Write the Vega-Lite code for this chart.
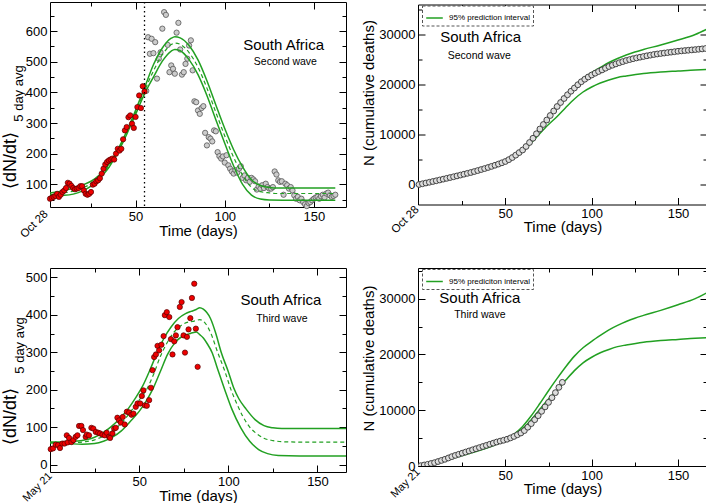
{
"$schema":"https://vega.github.io/schema/vega-lite/v6.json",
"padding":{"left":0,"top":0,"right":0,"bottom":0},
"config":{"font":"Liberation Sans","view":{"stroke":"#000","strokeWidth":1},"axis":{"domain":false,"grid":false,"labelFont":"Liberation Sans","titleFont":"Liberation Sans","labelFontSize":13,"titleFontSize":15,"titleFontWeight":"normal","labelColor":"#000","titleColor":"#000","tickColor":"#000","tickWidth":1,"labelOverlap":false,"labelFlush":false,"labelBound":false}},
"datasets":{
"tlred":[{"day":2,"v":53},{"day":3,"v":56},{"day":4,"v":59},{"day":5,"v":62},{"day":6,"v":69},{"day":7,"v":59},{"day":8,"v":66},{"day":9,"v":75},{"day":10,"v":80},{"day":11,"v":88},{"day":12,"v":105},{"day":13,"v":102},{"day":14,"v":95},{"day":15,"v":88},{"day":16,"v":84},{"day":17,"v":86},{"day":18,"v":88},{"day":19,"v":94},{"day":20,"v":94},{"day":21,"v":80},{"day":22,"v":69},{"day":23,"v":66},{"day":24,"v":69},{"day":25,"v":75},{"day":26,"v":99},{"day":27,"v":102},{"day":28,"v":110},{"day":29,"v":113},{"day":30,"v":120},{"day":31,"v":135},{"day":32,"v":151},{"day":33,"v":165},{"day":34,"v":173},{"day":35,"v":178},{"day":36,"v":181},{"day":37,"v":184},{"day":38,"v":181},{"day":39,"v":200},{"day":40,"v":216},{"day":41,"v":210},{"day":42,"v":216},{"day":43,"v":247},{"day":44,"v":276},{"day":45,"v":287},{"day":46,"v":319},{"day":47,"v":325},{"day":48,"v":298},{"day":49,"v":284},{"day":50,"v":320},{"day":51,"v":352},{"day":52,"v":390},{"day":53,"v":349},{"day":54,"v":420},{"day":55,"v":403}],
"tlgray":[{"day":56,"v":405},{"day":57,"v":580},{"day":58,"v":526},{"day":59,"v":575},{"day":60,"v":528},{"day":61,"v":564},{"day":62,"v":445},{"day":63,"v":510},{"day":64,"v":531},{"day":65,"v":608},{"day":66,"v":662},{"day":67,"v":653},{"day":68,"v":555},{"day":69,"v":466},{"day":70,"v":488},{"day":71,"v":477},{"day":72,"v":461},{"day":73,"v":595},{"day":74,"v":627},{"day":75,"v":540},{"day":76,"v":458},{"day":77,"v":466},{"day":78,"v":493},{"day":79,"v":510},{"day":80,"v":553},{"day":81,"v":570},{"day":82,"v":472},{"day":83,"v":371},{"day":84,"v":368},{"day":85,"v":341},{"day":86,"v":330},{"day":87,"v":349},{"day":88,"v":355},{"day":89,"v":268},{"day":90,"v":227},{"day":91,"v":254},{"day":92,"v":249},{"day":93,"v":240},{"day":94,"v":276},{"day":95,"v":273},{"day":96,"v":205},{"day":97,"v":192},{"day":98,"v":184},{"day":99,"v":191},{"day":100,"v":171},{"day":101,"v":195},{"day":102,"v":162},{"day":103,"v":151},{"day":104,"v":142},{"day":105,"v":135},{"day":106,"v":146},{"day":107,"v":138},{"day":108,"v":151},{"day":109,"v":159},{"day":110,"v":121},{"day":111,"v":129},{"day":112,"v":113},{"day":113,"v":121},{"day":114,"v":108},{"day":115,"v":121},{"day":116,"v":116},{"day":117,"v":110},{"day":118,"v":83},{"day":119,"v":93},{"day":120,"v":86},{"day":121,"v":97},{"day":122,"v":88},{"day":123,"v":102},{"day":124,"v":91},{"day":125,"v":86},{"day":126,"v":86},{"day":127,"v":91},{"day":128,"v":142},{"day":129,"v":132},{"day":130,"v":113},{"day":131,"v":108},{"day":132,"v":110},{"day":133,"v":66},{"day":134,"v":102},{"day":135,"v":97},{"day":136,"v":86},{"day":137,"v":91},{"day":138,"v":80},{"day":139,"v":64},{"day":140,"v":53},{"day":141,"v":59},{"day":142,"v":48},{"day":143,"v":53},{"day":144,"v":42},{"day":145,"v":35},{"day":146,"v":29},{"day":147,"v":39},{"day":148,"v":42},{"day":149,"v":48},{"day":150,"v":53},{"day":151,"v":57},{"day":152,"v":59},{"day":153,"v":53},{"day":154,"v":61},{"day":155,"v":66},{"day":156,"v":57},{"day":157,"v":70},{"day":158,"v":73},{"day":159,"v":64},{"day":160,"v":59},{"day":161,"v":62},{"day":162,"v":66}],
"tlband":[{"day":2,"v":72,"b":"u"},{"day":5,"v":74,"b":"u"},{"day":10,"v":80,"b":"u"},{"day":15,"v":87,"b":"u"},{"day":20,"v":97,"b":"u"},{"day":25,"v":110,"b":"u"},{"day":30,"v":132,"b":"u"},{"day":35,"v":165,"b":"u"},{"day":40,"v":213,"b":"u"},{"day":45,"v":273,"b":"u"},{"day":50,"v":342,"b":"u"},{"day":55,"v":415,"b":"u"},{"day":60,"v":490,"b":"u"},{"day":65,"v":545,"b":"u"},{"day":70,"v":577,"b":"u"},{"day":72,"v":582,"b":"u"},{"day":75,"v":578,"b":"u"},{"day":80,"v":553,"b":"u"},{"day":85,"v":506,"b":"u"},{"day":90,"v":438,"b":"u"},{"day":95,"v":359,"b":"u"},{"day":100,"v":282,"b":"u"},{"day":105,"v":213,"b":"u"},{"day":110,"v":157,"b":"u"},{"day":115,"v":115,"b":"u"},{"day":120,"v":96,"b":"u"},{"day":125,"v":90,"b":"u"},{"day":130,"v":88,"b":"u"},{"day":140,"v":88,"b":"u"},{"day":150,"v":88,"b":"u"},{"day":162,"v":88,"b":"u"},
{"day":2,"v":62,"b":"l"},{"day":5,"v":63,"b":"l"},{"day":10,"v":64,"b":"l"},{"day":15,"v":68,"b":"l"},{"day":20,"v":78,"b":"l"},{"day":25,"v":94,"b":"l"},{"day":30,"v":121,"b":"l"},{"day":35,"v":155,"b":"l"},{"day":40,"v":203,"b":"l"},{"day":45,"v":263,"b":"l"},{"day":50,"v":328,"b":"l"},{"day":55,"v":395,"b":"l"},{"day":60,"v":450,"b":"l"},{"day":65,"v":502,"b":"l"},{"day":70,"v":535,"b":"l"},{"day":72,"v":540,"b":"l"},{"day":75,"v":536,"b":"l"},{"day":80,"v":507,"b":"l"},{"day":85,"v":458,"b":"l"},{"day":90,"v":390,"b":"l"},{"day":95,"v":311,"b":"l"},{"day":100,"v":234,"b":"l"},{"day":105,"v":160,"b":"l"},{"day":110,"v":100,"b":"l"},{"day":115,"v":65,"b":"l"},{"day":120,"v":52,"b":"l"},{"day":125,"v":49,"b":"l"},{"day":140,"v":48,"b":"l"},{"day":162,"v":48,"b":"l"}],
"tlmid":[{"day":2,"v":66},{"day":5,"v":68},{"day":10,"v":72},{"day":15,"v":78},{"day":20,"v":88},{"day":25,"v":102},{"day":30,"v":127},{"day":35,"v":160},{"day":40,"v":208},{"day":45,"v":268},{"day":50,"v":335},{"day":55,"v":405},{"day":60,"v":470},{"day":65,"v":523},{"day":70,"v":556},{"day":72,"v":561},{"day":75,"v":557},{"day":80,"v":530},{"day":85,"v":482},{"day":90,"v":414},{"day":95,"v":335},{"day":100,"v":258},{"day":105,"v":188},{"day":110,"v":130},{"day":115,"v":90},{"day":120,"v":76},{"day":125,"v":72},{"day":130,"v":70},{"day":145,"v":70},{"day":162,"v":70}],
"blred":[{"day":0.4,"v":41},{"day":1.7,"v":43},{"day":3.2,"v":53},{"day":4.5,"v":52},{"day":5.6,"v":44},{"day":6.9,"v":56},{"day":8.2,"v":56},{"day":9.4,"v":78},{"day":9.9,"v":59},{"day":10.7,"v":71},{"day":12,"v":60},{"day":13.1,"v":65},{"day":14.4,"v":74},{"day":15.4,"v":78},{"day":16.3,"v":103},{"day":17.6,"v":103},{"day":18.5,"v":92},{"day":20,"v":74},{"day":20.6,"v":80},{"day":21.9,"v":78},{"day":23.2,"v":98},{"day":24.3,"v":96},{"day":25.7,"v":87},{"day":27,"v":85},{"day":28.1,"v":83},{"day":29.4,"v":80},{"day":30.7,"v":78},{"day":31.8,"v":85},{"day":33.1,"v":74},{"day":33.7,"v":71},{"day":35,"v":83},{"day":36,"v":96},{"day":36.9,"v":98},{"day":37.8,"v":125},{"day":38.8,"v":118},{"day":39.7,"v":112},{"day":40.8,"v":127},{"day":41.9,"v":107},{"day":43.1,"v":141},{"day":44.4,"v":139},{"day":45.7,"v":133},{"day":46.8,"v":136},{"day":48.1,"v":154},{"day":49.1,"v":163},{"day":50.6,"v":163},{"day":51.5,"v":183},{"day":52.4,"v":198},{"day":53.2,"v":158},{"day":54.3,"v":157},{"day":55.6,"v":172},{"day":56.6,"v":205},{"day":57.5,"v":252},{"day":58.4,"v":287},{"day":59.4,"v":294},{"day":60.3,"v":317},{"day":61.2,"v":305},{"day":62.5,"v":320},{"day":63.7,"v":343},{"day":64.4,"v":399},{"day":65.5,"v":407},{"day":66.9,"v":394},{"day":67.8,"v":335},{"day":68.7,"v":294},{"day":69.7,"v":329},{"day":70.6,"v":345},{"day":71.5,"v":367},{"day":72.8,"v":421},{"day":73.8,"v":434},{"day":74.9,"v":345},{"day":75.7,"v":299},{"day":76.8,"v":341},{"day":77.7,"v":361},{"day":78.7,"v":391},{"day":79.6,"v":445},{"day":80.9,"v":483},{"day":81.8,"v":363},{"day":82.8,"v":261}],
"blband":[{"day":0,"v":60,"b":"u"},{"day":10,"v":61,"b":"u"},{"day":20,"v":66,"b":"u"},{"day":25,"v":73,"b":"u"},{"day":30,"v":86,"b":"u"},{"day":34,"v":100,"b":"u"},{"day":40,"v":127,"b":"u"},{"day":44,"v":150,"b":"u"},{"day":48,"v":178,"b":"u"},{"day":52,"v":210,"b":"u"},{"day":56,"v":252,"b":"u"},{"day":60,"v":298,"b":"u"},{"day":64,"v":338,"b":"u"},{"day":68,"v":368,"b":"u"},{"day":72,"v":390,"b":"u"},{"day":76,"v":403,"b":"u"},{"day":79,"v":409,"b":"u"},{"day":82,"v":414,"b":"u"},{"day":84,"v":419,"b":"u"},{"day":86,"v":415,"b":"u"},{"day":90,"v":390,"b":"u"},{"day":93,"v":350,"b":"u"},{"day":96,"v":300,"b":"u"},{"day":100,"v":248,"b":"u"},{"day":103,"v":205,"b":"u"},{"day":106,"v":175,"b":"u"},{"day":110,"v":148,"b":"u"},{"day":115,"v":120,"b":"u"},{"day":120,"v":104,"b":"u"},{"day":125,"v":98,"b":"u"},{"day":130,"v":96,"b":"u"},{"day":166,"v":96,"b":"u"},
{"day":0,"v":58,"b":"l"},{"day":10,"v":56,"b":"l"},{"day":18,"v":54,"b":"l"},{"day":25,"v":56,"b":"l"},{"day":30,"v":62,"b":"l"},{"day":35,"v":73,"b":"l"},{"day":40,"v":90,"b":"l"},{"day":45,"v":115,"b":"l"},{"day":50,"v":142,"b":"l"},{"day":54,"v":170,"b":"l"},{"day":57.5,"v":200,"b":"l"},{"day":62,"v":250,"b":"l"},{"day":66,"v":295,"b":"l"},{"day":70,"v":325,"b":"l"},{"day":74,"v":342,"b":"l"},{"day":78,"v":349,"b":"l"},{"day":80,"v":352,"b":"l"},{"day":82,"v":354,"b":"l"},{"day":84,"v":347,"b":"l"},{"day":86,"v":338,"b":"l"},{"day":88,"v":324,"b":"l"},{"day":91,"v":298,"b":"l"},{"day":94,"v":255,"b":"l"},{"day":98,"v":200,"b":"l"},{"day":102,"v":148,"b":"l"},{"day":107,"v":98,"b":"l"},{"day":112,"v":62,"b":"l"},{"day":117,"v":40,"b":"l"},{"day":122,"v":29,"b":"l"},{"day":128,"v":24,"b":"l"},{"day":140,"v":23,"b":"l"},{"day":166,"v":23,"b":"l"}],
"blmid":[{"day":0,"v":58},{"day":10,"v":58},{"day":20,"v":61},{"day":25,"v":66},{"day":30,"v":76},{"day":35,"v":90},{"day":40,"v":110},{"day":45,"v":140},{"day":50,"v":172},{"day":55,"v":208},{"day":58,"v":240},{"day":62,"v":290},{"day":66,"v":328},{"day":70,"v":356},{"day":74,"v":373},{"day":78,"v":381},{"day":80,"v":382},{"day":82,"v":385},{"day":84,"v":387},{"day":87,"v":378},{"day":90,"v":353},{"day":94,"v":300},{"day":98,"v":250},{"day":101.5,"v":200},{"day":105,"v":160},{"day":108,"v":130},{"day":112,"v":100},{"day":116,"v":82},{"day":120,"v":70},{"day":125,"v":64},{"day":130,"v":61},{"day":140,"v":60},{"day":166,"v":60}],
"rband":[{"day":0,"v":0,"b":"u"},{"day":10,"v":750,"b":"u"},{"day":20,"v":1550,"b":"u"},{"day":30,"v":2420,"b":"u"},{"day":40,"v":3420,"b":"u"},{"day":50,"v":4650,"b":"u"},{"day":55,"v":5700,"b":"u"},{"day":60,"v":7100,"b":"u"},{"day":65,"v":9000,"b":"u"},{"day":70,"v":11200,"b":"u"},{"day":75,"v":13500,"b":"u"},{"day":80,"v":15700,"b":"u"},{"day":85,"v":17800,"b":"u"},{"day":90,"v":19700,"b":"u"},{"day":95,"v":21200,"b":"u"},{"day":100,"v":22350,"b":"u"},{"day":105,"v":23400,"b":"u"},{"day":110,"v":24400,"b":"u"},{"day":115,"v":25200,"b":"u"},{"day":120,"v":25900,"b":"u"},{"day":125,"v":26500,"b":"u"},{"day":130,"v":27000,"b":"u"},{"day":140,"v":27900,"b":"u"},{"day":150,"v":28900,"b":"u"},{"day":160,"v":30000,"b":"u"},{"day":167,"v":31100,"b":"u"},
{"day":0,"v":0,"b":"l"},{"day":10,"v":680,"b":"l"},{"day":20,"v":1450,"b":"l"},{"day":30,"v":2330,"b":"l"},{"day":40,"v":3330,"b":"l"},{"day":50,"v":4550,"b":"l"},{"day":55,"v":5450,"b":"l"},{"day":60,"v":6650,"b":"l"},{"day":65,"v":8300,"b":"l"},{"day":70,"v":10200,"b":"l"},{"day":75,"v":12000,"b":"l"},{"day":80,"v":13600,"b":"l"},{"day":85,"v":15400,"b":"l"},{"day":90,"v":17100,"b":"l"},{"day":95,"v":18500,"b":"l"},{"day":100,"v":19500,"b":"l"},{"day":105,"v":20300,"b":"l"},{"day":110,"v":20900,"b":"l"},{"day":115,"v":21400,"b":"l"},{"day":120,"v":21700,"b":"l"},{"day":130,"v":22200,"b":"l"},{"day":140,"v":22500,"b":"l"},{"day":150,"v":22700,"b":"l"},{"day":160,"v":22900,"b":"l"},{"day":167,"v":23000,"b":"l"}],
"trpts":[{"day":0,"v":0},{"day":2,"v":150},{"day":4,"v":300},{"day":6,"v":450},{"day":8,"v":600},{"day":10,"v":750},{"day":12,"v":910},{"day":14,"v":1070},{"day":16,"v":1230},{"day":18,"v":1390},{"day":20,"v":1550},{"day":22,"v":1720},{"day":24,"v":1890},{"day":26,"v":2060},{"day":28,"v":2230},{"day":30,"v":2400},{"day":32,"v":2590},{"day":34,"v":2790},{"day":36,"v":2990},{"day":38,"v":3190},{"day":40,"v":3400},{"day":42,"v":3620},{"day":44,"v":3850},{"day":46,"v":4090},{"day":48,"v":4340},{"day":50,"v":4600},{"day":52,"v":4970},{"day":54,"v":5390},{"day":56,"v":5870},{"day":58,"v":6380},{"day":60,"v":6900},{"day":62,"v":7600},{"day":64,"v":8400},{"day":66,"v":9250},{"day":68,"v":10150},{"day":70,"v":11100},{"day":72,"v":12000},{"day":74,"v":12900},{"day":76,"v":13800},{"day":78,"v":14700},{"day":80,"v":15600},{"day":82,"v":16400},{"day":84,"v":17200},{"day":86,"v":17950},{"day":88,"v":18650},{"day":90,"v":19300},{"day":92,"v":19950},{"day":94,"v":20550},{"day":96,"v":21050},{"day":98,"v":21500},{"day":100,"v":21900},{"day":102,"v":22260},{"day":104,"v":22600},{"day":106,"v":22920},{"day":108,"v":23260},{"day":110,"v":23600},{"day":112,"v":23860},{"day":114,"v":24120},{"day":116,"v":24360},{"day":118,"v":24580},{"day":120,"v":24800},{"day":122,"v":24980},{"day":124,"v":25160},{"day":126,"v":25320},{"day":128,"v":25460},{"day":130,"v":25600},{"day":132,"v":25740},{"day":134,"v":25870},{"day":136,"v":26000},{"day":138,"v":26100},{"day":140,"v":26200},{"day":142,"v":26290},{"day":144,"v":26380},{"day":146,"v":26470},{"day":148,"v":26560},{"day":150,"v":26650},{"day":152,"v":26720},{"day":154,"v":26790},{"day":156,"v":26850},{"day":158,"v":26920},{"day":160,"v":26980},{"day":162,"v":27050},{"day":164,"v":27120},{"day":166,"v":27200}],
"brpts":[{"day":1,"v":60},{"day":3,"v":180},{"day":5,"v":300},{"day":7,"v":450},{"day":9,"v":600},{"day":11,"v":800},{"day":13,"v":1000},{"day":15,"v":1200},{"day":17,"v":1440},{"day":19,"v":1680},{"day":21,"v":1900},{"day":23,"v":2100},{"day":25,"v":2300},{"day":27,"v":2500},{"day":29,"v":2700},{"day":31,"v":2900},{"day":33,"v":3100},{"day":35,"v":3300},{"day":37,"v":3500},{"day":39,"v":3700},{"day":41,"v":3900},{"day":43,"v":4100},{"day":45,"v":4300},{"day":47,"v":4460},{"day":49,"v":4620},{"day":51,"v":4800},{"day":53,"v":5040},{"day":55,"v":5300},{"day":57,"v":5600},{"day":59,"v":5920},{"day":61,"v":6350},{"day":63,"v":6950},{"day":65,"v":7600},{"day":67,"v":8300},{"day":69,"v":9020},{"day":71,"v":9800},{"day":73,"v":10600},{"day":75,"v":11400},{"day":77,"v":12250},{"day":79,"v":13150},{"day":81,"v":14100},{"day":83,"v":15000}]
},
"columns":2,"spacing":{"row":61,"column":72},"bounds":"flush","center":true,
"resolve":{"scale":{"color":"independent"},"legend":{"color":"independent"}},
"concat":[
{"width":296,"height":205,
 "resolve":{"axis":{"x":"independent","y":"independent"}},
 "layer":[
  {"data":{"name":"tlgray"},"mark":{"type":"circle","size":28,"color":"#cccccc","stroke":"#555555","strokeWidth":0.8,"opacity":1},
   "encoding":{"x":{"field":"day","type":"quantitative","scale":{"domain":[2,168],"nice":false,"zero":false},"axis":null},"y":{"field":"v","type":"quantitative","scale":{"domain":[26,695],"nice":false,"zero":false},"axis":null}}},
  {"data":{"name":"tlband"},"mark":{"type":"line","color":"#22a022","strokeWidth":1.5,"interpolate":"monotone","clip":true},
   "encoding":{"x":{"field":"day","type":"quantitative","scale":{"domain":[2,168],"nice":false,"zero":false},"axis":null},"y":{"field":"v","type":"quantitative","scale":{"domain":[26,695],"nice":false,"zero":false},"axis":null},"detail":{"field":"b"}}},
  {"data":{"name":"tlmid"},"mark":{"type":"line","color":"#22a022","strokeWidth":1.2,"strokeDash":[4,3],"interpolate":"monotone","clip":true},
   "encoding":{"x":{"field":"day","type":"quantitative","scale":{"domain":[2,168],"nice":false,"zero":false},"axis":null},"y":{"field":"v","type":"quantitative","scale":{"domain":[26,695],"nice":false,"zero":false},"axis":null}}},
  {"data":{"name":"tlred"},"mark":{"type":"circle","size":28,"color":"#ee0000","stroke":"#550000","strokeWidth":0.7,"opacity":1},
   "encoding":{
    "x":{"field":"day","type":"quantitative","scale":{"domain":[2,168],"nice":false,"zero":false},
      "axis":{"orient":"bottom","title":"Time (days)","values":[25,50,75,100,125,150],"labelExpr":"datum.value % 50 == 0 ? datum.label : ''","tickSize":{"condition":{"test":"datum.value % 50 == 0","value":-7},"value":-4},"labelPadding":10,"titleY":23,"titleBaseline":"middle"}},
    "y":{"field":"v","type":"quantitative","scale":{"domain":[26,695],"nice":false,"zero":false},
      "axis":{"orient":"left","title":null,"values":[50,100,150,200,250,300,350,400,450,500,550,600,650],"labelExpr":"datum.value % 100 == 0 ? datum.label : ''","tickSize":{"condition":{"test":"datum.value % 100 == 0","value":-7},"value":-4},"labelPadding":10}}}},
  {"data":{"name":"tlred"},"mark":{"type":"circle","opacity":0},
   "encoding":{
    "x":{"field":"day","type":"quantitative","scale":{"domain":[2,168],"nice":false,"zero":false},"axis":{"orient":"top","title":null,"labels":false,"values":[25,50,75,100,125,150],"tickSize":{"condition":{"test":"datum.value % 50 == 0","value":-7},"value":-4}}},
    "y":{"field":"v","type":"quantitative","scale":{"domain":[26,695],"nice":false,"zero":false},"axis":{"orient":"right","title":null,"labels":false,"values":[50,100,150,200,250,300,350,400,450,500,550,600,650],"tickSize":{"condition":{"test":"datum.value % 100 == 0","value":-7},"value":-4}}}}},
  {"data":{"name":"tlred"},"mark":{"type":"circle","opacity":0},
   "encoding":{
    "x":{"field":"day","type":"quantitative","scale":{"domain":[2,168],"nice":false,"zero":false},"axis":{"orient":"bottom","title":null,"ticks":false,"values":[2],"labelExpr":"'Oct 28'","labelAngle":-45,"labelAlign":"right","labelBaseline":"middle","labelFontSize":11.5,"labelPadding":5,"labelOffset":-4}},
    "y":{"field":"v","type":"quantitative","scale":{"domain":[26,695],"nice":false,"zero":false},"axis":{"orient":"left","title":"5 day avg","labels":false,"ticks":false,"titleFontSize":13,"titleX":-32,"titleY":91,"titleAngle":-90,"titleAlign":"center","titleBaseline":"middle"}}}},
  {"data":{"name":"tlred"},"mark":{"type":"circle","opacity":0},
   "encoding":{
    "x":{"field":"day","type":"quantitative","scale":{"domain":[2,168],"nice":false,"zero":false},"axis":null},
    "y":{"field":"v","type":"quantitative","scale":{"domain":[26,695],"nice":false,"zero":false},"axis":{"orient":"left","title":"⟨dN/dt⟩","labels":false,"ticks":false,"titleFontSize":18,"titleX":-40,"titleY":158,"titleAngle":-90,"titleAlign":"center","titleBaseline":"middle"}}}},
  {"data":{"values":[{}]},"mark":{"type":"rule","color":"#000","strokeWidth":1.3,"strokeDash":[1.5,3]},
   "encoding":{"x":{"datum":55,"type":"quantitative","scale":{"domain":[2,168],"nice":false,"zero":false},"axis":null}}},
  {"data":{"values":[{"t":"South Africa"}]},"mark":{"type":"text","fontSize":15,"align":"center","baseline":"middle","color":"#000"},
   "encoding":{"text":{"field":"t"},"x":{"datum":133,"type":"quantitative","scale":{"domain":[2,168],"nice":false,"zero":false},"axis":null},"y":{"datum":555,"type":"quantitative","scale":{"domain":[26,695],"nice":false,"zero":false},"axis":null}}},
  {"data":{"values":[{"t":"Second wave"}]},"mark":{"type":"text","fontSize":10.5,"align":"center","baseline":"middle","color":"#000"},
   "encoding":{"text":{"field":"t"},"x":{"datum":134,"type":"quantitative","scale":{"domain":[2,168],"nice":false,"zero":false},"axis":null},"y":{"datum":499,"type":"quantitative","scale":{"domain":[26,695],"nice":false,"zero":false},"axis":null}}}
 ]},
{"width":289,"height":200,
 "resolve":{"axis":{"x":"independent","y":"independent"}},
 "layer":[
  {"data":{"name":"rband"},"mark":{"type":"line","strokeWidth":1.5,"interpolate":"monotone","clip":true},
   "encoding":{"x":{"field":"day","type":"quantitative","scale":{"domain":[-0.6,166.8],"nice":false,"zero":false},"axis":null},"y":{"field":"v","type":"quantitative","scale":{"domain":[-4000,36000],"nice":false,"zero":false},"axis":null},"detail":{"field":"b"},
    "color":{"datum":"95% prediction interval","type":"nominal","scale":{"range":["#22a022"]},
      "legend":{"title":null,"orient":"none","legendX":4,"legendY":1,"symbolType":"stroke","symbolSize":275,"symbolStrokeWidth":1.5,"labelFontSize":8,"labelFont":"Liberation Sans","labelColor":"#000","labelOffset":5,"padding":3,"strokeColor":"#555555","fillColor":"#ffffff","encode":{"legend":{"update":{"strokeDash":{"value":[3,2]}}}}}}}},
  {"data":{"name":"trpts"},"mark":{"type":"circle","size":34,"color":"#dddddd","stroke":"#333333","strokeWidth":0.9,"opacity":1},
   "encoding":{
    "x":{"field":"day","type":"quantitative","scale":{"domain":[-0.6,166.8],"nice":false,"zero":false},
      "axis":{"orient":"bottom","title":"Time (days)","values":[25,50,75,100,125,150],"labelExpr":"datum.value % 50 == 0 ? datum.label : ''","tickSize":{"condition":{"test":"datum.value % 50 == 0","value":-7},"value":-4},"labelPadding":10,"titleY":22,"titleBaseline":"middle"}},
    "y":{"field":"v","type":"quantitative","scale":{"domain":[-4000,36000],"nice":false,"zero":false},
      "axis":{"orient":"left","title":null,"values":[0,5000,10000,15000,20000,25000,30000,35000],"format":"d","labelExpr":"datum.value % 10000 == 0 ? datum.label : ''","tickSize":{"condition":{"test":"datum.value % 10000 == 0","value":-7},"value":-4},"labelPadding":10}}}},
  {"data":{"name":"trpts"},"mark":{"type":"circle","opacity":0},
   "encoding":{
    "x":{"field":"day","type":"quantitative","scale":{"domain":[-0.6,166.8],"nice":false,"zero":false},"axis":{"orient":"top","title":null,"labels":false,"values":[25,50,75,100,125,150],"tickSize":{"condition":{"test":"datum.value % 50 == 0","value":-7},"value":-4}}},
    "y":{"field":"v","type":"quantitative","scale":{"domain":[-4000,36000],"nice":false,"zero":false},"axis":{"orient":"right","title":null,"labels":false,"values":[0,5000,10000,15000,20000,25000,30000,35000],"tickSize":{"condition":{"test":"datum.value % 10000 == 0","value":-7},"value":-4}}}}},
  {"data":{"name":"trpts"},"mark":{"type":"circle","opacity":0},
   "encoding":{
    "x":{"field":"day","type":"quantitative","scale":{"domain":[-0.6,166.8],"nice":false,"zero":false},"axis":{"orient":"bottom","title":null,"ticks":false,"values":[-0.6],"labelExpr":"'Oct 28'","labelAngle":-45,"labelAlign":"right","labelBaseline":"middle","labelFontSize":11.5,"labelPadding":3,"labelOffset":-1}},
    "y":{"field":"v","type":"quantitative","scale":{"domain":[-4000,36000],"nice":false,"zero":false},"axis":{"orient":"left","title":"N (cumulative deaths)","labels":false,"ticks":false,"titleX":-50,"titleY":88,"titleAngle":-90,"titleAlign":"center","titleBaseline":"middle"}}}},
  {"data":{"values":[{"t":"South Africa"}]},"mark":{"type":"text","fontSize":15,"align":"center","baseline":"middle","color":"#000"},
   "encoding":{"text":{"field":"t"},"x":{"datum":35.7,"type":"quantitative","scale":{"domain":[-0.6,166.8],"nice":false,"zero":false},"axis":null},"y":{"datum":29480,"type":"quantitative","scale":{"domain":[-4000,36000],"nice":false,"zero":false},"axis":null}}},
  {"data":{"values":[{"t":"Second wave"}]},"mark":{"type":"text","fontSize":10.5,"align":"center","baseline":"middle","color":"#000"},
   "encoding":{"text":{"field":"t"},"x":{"datum":34.9,"type":"quantitative","scale":{"domain":[-0.6,166.8],"nice":false,"zero":false},"axis":null},"y":{"datum":25680,"type":"quantitative","scale":{"domain":[-4000,36000],"nice":false,"zero":false},"axis":null}}}
 ]},
{"width":296,"height":204,
 "resolve":{"axis":{"x":"independent","y":"independent"}},
 "layer":[
  {"data":{"name":"blband"},"mark":{"type":"line","color":"#22a022","strokeWidth":1.5,"interpolate":"monotone","clip":true},
   "encoding":{"x":{"field":"day","type":"quantitative","scale":{"domain":[0,166],"nice":false,"zero":false},"axis":null},"y":{"field":"v","type":"quantitative","scale":{"domain":[-20,525],"nice":false,"zero":false},"axis":null},"detail":{"field":"b"}}},
  {"data":{"name":"blmid"},"mark":{"type":"line","color":"#22a022","strokeWidth":1.2,"strokeDash":[4,3],"interpolate":"monotone","clip":true},
   "encoding":{"x":{"field":"day","type":"quantitative","scale":{"domain":[0,166],"nice":false,"zero":false},"axis":null},"y":{"field":"v","type":"quantitative","scale":{"domain":[-20,525],"nice":false,"zero":false},"axis":null}}},
  {"data":{"name":"blred"},"mark":{"type":"circle","size":28,"color":"#ee0000","stroke":"#550000","strokeWidth":0.7,"opacity":1},
   "encoding":{
    "x":{"field":"day","type":"quantitative","scale":{"domain":[0,166],"nice":false,"zero":false},
      "axis":{"orient":"bottom","title":"Time (days)","values":[25,50,75,100,125,150],"labelExpr":"datum.value % 50 == 0 ? datum.label : ''","tickSize":{"condition":{"test":"datum.value % 50 == 0","value":-7},"value":-4},"labelPadding":10,"titleY":23,"titleBaseline":"middle"}},
    "y":{"field":"v","type":"quantitative","scale":{"domain":[-20,525],"nice":false,"zero":false},
      "axis":{"orient":"left","title":null,"values":[0,50,100,150,200,250,300,350,400,450,500],"labelExpr":"datum.value % 100 == 0 ? datum.label : ''","tickSize":{"condition":{"test":"datum.value % 100 == 0","value":-7},"value":-4},"labelPadding":10}}}},
  {"data":{"name":"blred"},"mark":{"type":"circle","opacity":0},
   "encoding":{
    "x":{"field":"day","type":"quantitative","scale":{"domain":[0,166],"nice":false,"zero":false},"axis":{"orient":"top","title":null,"labels":false,"values":[25,50,75,100,125,150],"tickSize":{"condition":{"test":"datum.value % 50 == 0","value":-7},"value":-4}}},
    "y":{"field":"v","type":"quantitative","scale":{"domain":[-20,525],"nice":false,"zero":false},"axis":{"orient":"right","title":null,"labels":false,"values":[0,50,100,150,200,250,300,350,400,450,500],"tickSize":{"condition":{"test":"datum.value % 100 == 0","value":-7},"value":-4}}}}},
  {"data":{"name":"blred"},"mark":{"type":"circle","opacity":0},
   "encoding":{
    "x":{"field":"day","type":"quantitative","scale":{"domain":[0,166],"nice":false,"zero":false},"axis":{"orient":"bottom","title":null,"ticks":false,"values":[0],"labelExpr":"'May 21'","labelAngle":-45,"labelAlign":"right","labelBaseline":"middle","labelFontSize":11,"labelPadding":2,"labelOffset":0}},
    "y":{"field":"v","type":"quantitative","scale":{"domain":[-20,525],"nice":false,"zero":false},"axis":{"orient":"left","title":"5 day avg","labels":false,"ticks":false,"titleFontSize":13,"titleX":-31,"titleY":77,"titleAngle":-90,"titleAlign":"center","titleBaseline":"middle"}}}},
  {"data":{"name":"blred"},"mark":{"type":"circle","opacity":0},
   "encoding":{
    "x":{"field":"day","type":"quantitative","scale":{"domain":[0,166],"nice":false,"zero":false},"axis":null},
    "y":{"field":"v","type":"quantitative","scale":{"domain":[-20,525],"nice":false,"zero":false},"axis":{"orient":"left","title":"⟨dN/dt⟩","labels":false,"ticks":false,"titleFontSize":18,"titleX":-40,"titleY":148,"titleAngle":-90,"titleAlign":"center","titleBaseline":"middle"}}}},
  {"data":{"values":[{"t":"South Africa"}]},"mark":{"type":"text","fontSize":15,"align":"center","baseline":"middle","color":"#000"},
   "encoding":{"text":{"field":"t"},"x":{"datum":129.5,"type":"quantitative","scale":{"domain":[0,166],"nice":false,"zero":false},"axis":null},"y":{"datum":440,"type":"quantitative","scale":{"domain":[-20,525],"nice":false,"zero":false},"axis":null}}},
  {"data":{"values":[{"t":"Third wave"}]},"mark":{"type":"text","fontSize":10.5,"align":"center","baseline":"middle","color":"#000"},
   "encoding":{"text":{"field":"t"},"x":{"datum":130,"type":"quantitative","scale":{"domain":[0,166],"nice":false,"zero":false},"axis":null},"y":{"datum":390,"type":"quantitative","scale":{"domain":[-20,525],"nice":false,"zero":false},"axis":null}}}
 ]},
{"width":289,"height":198,
 "resolve":{"axis":{"x":"independent","y":"independent"}},
 "layer":[
  {"data":{"name":"rband"},"mark":{"type":"line","strokeWidth":1.5,"interpolate":"monotone","clip":true},
   "encoding":{"x":{"field":"day","type":"quantitative","scale":{"domain":[-0.6,166.8],"nice":false,"zero":false},"axis":null},"y":{"field":"v","type":"quantitative","scale":{"domain":[0,35500],"nice":false,"zero":false},"axis":null},"detail":{"field":"b"},
    "color":{"datum":"95% prediciton interval","type":"nominal","scale":{"range":["#22a022"]},
      "legend":{"title":null,"orient":"none","legendX":4,"legendY":1,"symbolType":"stroke","symbolSize":275,"symbolStrokeWidth":1.5,"labelFontSize":8,"labelFont":"Liberation Sans","labelColor":"#000","labelOffset":5,"padding":3,"strokeColor":"#555555","fillColor":"#ffffff","encode":{"legend":{"update":{"strokeDash":{"value":[3,2]}}}}}}}},
  {"data":{"name":"brpts"},"mark":{"type":"circle","size":34,"color":"#dddddd","stroke":"#333333","strokeWidth":0.9,"opacity":1,"clip":true},
   "encoding":{
    "x":{"field":"day","type":"quantitative","scale":{"domain":[-0.6,166.8],"nice":false,"zero":false},
      "axis":{"orient":"bottom","title":"Time (days)","values":[25,50,75,100,125,150],"labelExpr":"datum.value % 50 == 0 ? datum.label : ''","tickSize":{"condition":{"test":"datum.value % 50 == 0","value":-7},"value":-4},"labelPadding":10,"titleY":22,"titleBaseline":"middle"}},
    "y":{"field":"v","type":"quantitative","scale":{"domain":[0,35500],"nice":false,"zero":false},
      "axis":{"orient":"left","title":null,"values":[0,5000,10000,15000,20000,25000,30000,35000],"format":"d","labelExpr":"datum.value % 10000 == 0 ? datum.label : ''","tickSize":{"condition":{"test":"datum.value % 10000 == 0","value":-7},"value":-4},"labelPadding":10}}}},
  {"data":{"name":"brpts"},"mark":{"type":"circle","opacity":0},
   "encoding":{
    "x":{"field":"day","type":"quantitative","scale":{"domain":[-0.6,166.8],"nice":false,"zero":false},"axis":{"orient":"top","title":null,"labels":false,"values":[25,50,75,100,125,150],"tickSize":{"condition":{"test":"datum.value % 50 == 0","value":-7},"value":-4}}},
    "y":{"field":"v","type":"quantitative","scale":{"domain":[0,35500],"nice":false,"zero":false},"axis":{"orient":"right","title":null,"labels":false,"values":[0,5000,10000,15000,20000,25000,30000,35000],"tickSize":{"condition":{"test":"datum.value % 10000 == 0","value":-7},"value":-4}}}}},
  {"data":{"name":"brpts"},"mark":{"type":"circle","opacity":0},
   "encoding":{
    "x":{"field":"day","type":"quantitative","scale":{"domain":[-0.6,166.8],"nice":false,"zero":false},"axis":{"orient":"bottom","title":null,"ticks":false,"values":[-0.6],"labelExpr":"'May 21'","labelAngle":-45,"labelAlign":"right","labelBaseline":"middle","labelFontSize":11,"labelPadding":4,"labelOffset":0}},
    "y":{"field":"v","type":"quantitative","scale":{"domain":[0,35500],"nice":false,"zero":false},"axis":{"orient":"left","title":"N (cumulative deaths)","labels":false,"ticks":false,"titleX":-50,"titleY":90,"titleAngle":-90,"titleAlign":"center","titleBaseline":"middle"}}}},
  {"data":{"values":[{"t":"South Africa"}]},"mark":{"type":"text","fontSize":15,"align":"center","baseline":"middle","color":"#000"},
   "encoding":{"text":{"field":"t"},"x":{"datum":35.2,"type":"quantitative","scale":{"domain":[-0.6,166.8],"nice":false,"zero":false},"axis":null},"y":{"datum":30100,"type":"quantitative","scale":{"domain":[0,35500],"nice":false,"zero":false},"axis":null}}},
  {"data":{"values":[{"t":"Third wave"}]},"mark":{"type":"text","fontSize":10.5,"align":"center","baseline":"middle","color":"#000"},
   "encoding":{"text":{"field":"t"},"x":{"datum":35.2,"type":"quantitative","scale":{"domain":[-0.6,166.8],"nice":false,"zero":false},"axis":null},"y":{"datum":27100,"type":"quantitative","scale":{"domain":[0,35500],"nice":false,"zero":false},"axis":null}}}
 ]}
]
}
